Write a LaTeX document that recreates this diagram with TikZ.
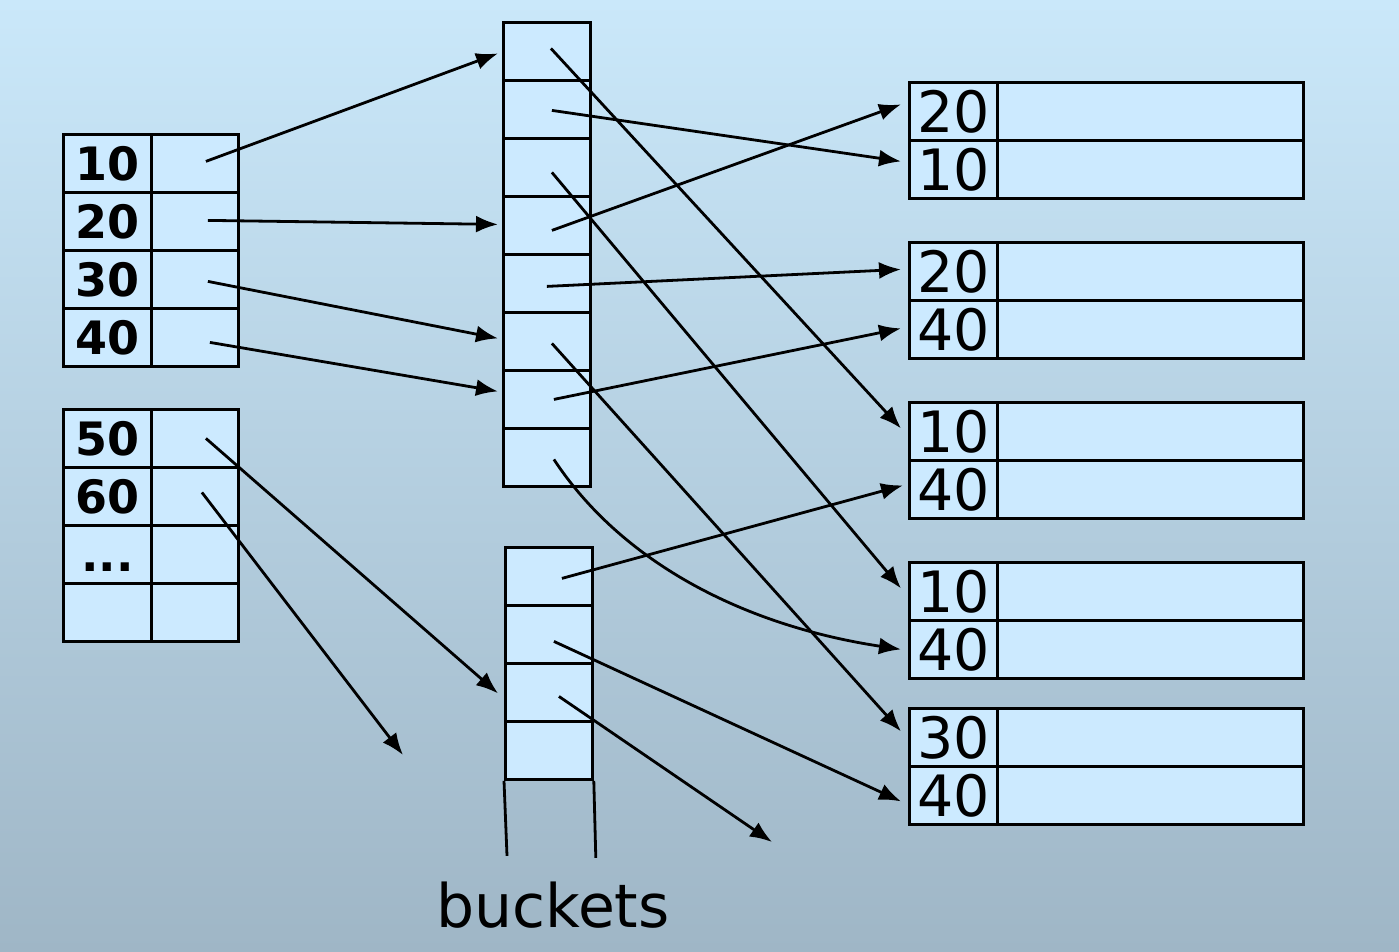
\documentclass[tikz,border=0pt]{standalone}
\usepackage{fontspec}
\setmainfont{DejaVu Sans}
\usetikzlibrary{arrows.meta}

\definecolor{bgtop}{RGB}{202,232,250}
\definecolor{bgbot}{RGB}{159,182,198}
\definecolor{cellblue}{RGB}{204,234,255}
\newcommand{\tdots}{...}

\tikzset{
  cell/.style={draw, line width=2.8pt, fill=cellblue, inner sep=0pt,
    minimum height=58pt, minimum width=87pt, anchor=north west},
  keybold/.style={cell, minimum width=88pt, font=\bfseries\fontsize{46}{46}\selectfont,
    text height=35pt, text depth=0pt},
  keyplain/.style={cell, minimum width=88pt, font=\fontsize{57}{57}\selectfont,
    text height=42pt, text depth=0pt},
  ptr/.style={-{Latex[length=22pt,width=17pt]}, line width=2.8pt},
}

\begin{document}
\begin{tikzpicture}[x=1pt,y=-1pt]
\shade[top color=bgtop, bottom color=bgbot] (0,0) rectangle (1399,952);
\useasboundingbox (0,0) rectangle (1399,952);

% index blocks
\foreach \k [count=\i from 0] in {10,20,30,40} {
  \node[keybold] (ka\i) at (62,133+58*\i) {\k};
  \node[cell] (pa\i) at (150,133+58*\i) {};
}
\foreach \k [count=\i from 0] in {50,60,\tdots,{}} {
  \node[keybold] (kb\i) at (62,408+58*\i) {\k};
  \node[cell] (pb\i) at (150,408+58*\i) {};
}

% buckets
\foreach \i in {0,...,7}
  \node[cell] (b\i) at (502,21+58*\i) {};
\foreach \i in {0,...,3}
  \node[cell] (c\i) at (504,546+58*\i) {};
\draw[line width=2.8pt] (c3.south west) -- ++(3,75);
\draw[line width=2.8pt] (c3.south east) -- ++(2,77);
\node[font=\fontsize{60}{60}\selectfont] (lbl) at (553,905) {buckets};

% data blocks
\foreach \t/\a/\b [count=\j] in {81/20/10,241/20/40,401/10/40,561/10/40,707/30/40} {
  \node[keyplain] (ra\j) at (908,\t) {\a};
  \node[cell, minimum width=306pt] (rda\j) at (996,\t) {};
  \node[keyplain] (rb\j) at (908,\t+58) {\b};
  \node[cell, minimum width=306pt] (rdb\j) at (996,\t+58) {};
}

\coordinate (lost1) at (403,755);
\coordinate (lost2) at (772,842);

% index -> buckets
\draw[ptr] ([shift={(11,-2)}]pa0.center) -- ([shift={(-4,2)}]b0.west);
\draw[ptr] ([shift={(13,-1)}]pa1.center) -- ([shift={(-4,-1)}]b3.west);
\draw[ptr] ([shift={(13,2)}]pa2.center) -- ([shift={(-4,-3)}]b5.west);
\draw[ptr] ([shift={(15,5)}]pa3.center) -- ([shift={(-4,-8)}]b6.west);
\draw[ptr] ([shift={(11,0)}]pb0.center) -- ([shift={(-6,1)}]c2.west);
\draw[ptr] ([shift={(7,-4)}]pb1.center) -- (lost1);

% buckets -> records
\draw[ptr] ([shift={(4,-3)}]b0.center) -- ([shift={(-7,-3)}]ra3.west);
\draw[ptr] ([shift={(5,1)}]b1.center) -- ([shift={(-7,-8)}]rb1.west);
\draw[ptr] ([shift={(5,5)}]b2.center) -- ([shift={(-7,-3)}]ra4.west);
\draw[ptr] ([shift={(5,5)}]b3.center) -- ([shift={(-7,-7)}]ra1.west);
\draw[ptr] ([shift={(0,3)}]b4.center) -- ([shift={(-7,-2)}]ra2.west);
\draw[ptr] ([shift={(5,2)}]b5.center) -- ([shift={(-7,-6)}]ra5.west);
\draw[ptr] ([shift={(7,0)}]b6.center) -- ([shift={(-7,-1)}]rb2.west);
\draw[ptr] ([shift={(7,2)}]b7.center) .. controls (620,560) and (740,625) .. ([shift={(-7,0)}]rb4.west);
\draw[ptr] ([shift={(13,2)}]c0.center) -- ([shift={(-5,-4)}]rb3.west);
\draw[ptr] ([shift={(5,7)}]c1.center) -- ([shift={(-7,6)}]rb5.west);
\draw[ptr] ([shift={(10,4)}]c2.center) -- (lost2);
\end{tikzpicture}
\end{document}
